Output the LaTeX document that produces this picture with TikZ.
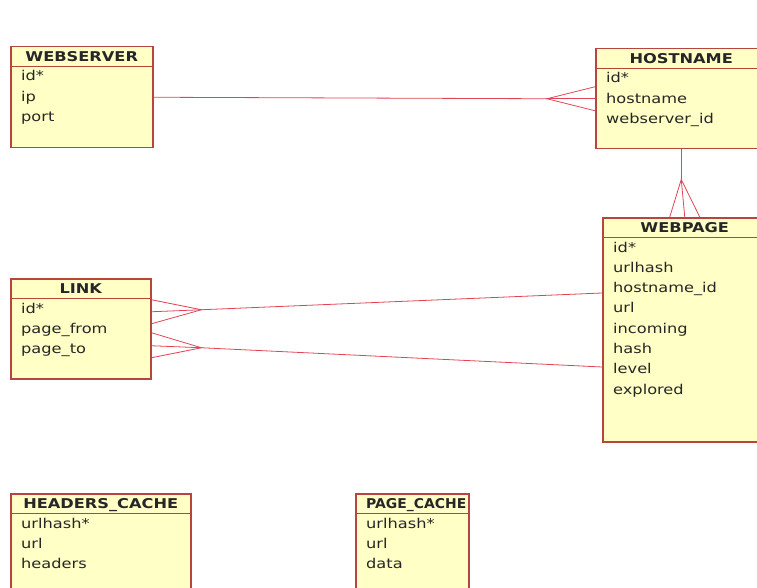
\documentclass[tikz,border=0pt]{standalone}
\usepackage{fontspec}
\usepackage{graphicx}
\setmainfont[FakeStretch=1.2]{DejaVu Sans}
\usetikzlibrary{calc}
\definecolor{tfill}{HTML}{FFFFC6}
\definecolor{tborder}{HTML}{B8443E}
\definecolor{relc}{HTML}{E04456}
\definecolor{ink}{HTML}{262626}
\tikzset{
  tbl/.style={draw=tborder, fill=tfill, line width=1.5pt, anchor=north west, inner sep=0pt},
  hline/.style={draw=tborder, line width=1.3pt},
  hdr/.style={font=\fontsize{13.5}{15}\selectfont\bfseries, text=ink, anchor=base, inner sep=0pt},
  fld/.style={font=\fontsize{13.5}{15}\selectfont, text=ink, anchor=base west, inner sep=0pt},
  relline/.style={draw=relc, line width=0.8pt},
}
\begin{document}
\begin{tikzpicture}[x=1pt,y=-1pt]
\useasboundingbox (0,0) rectangle (757,588);
\clip (0,0) rectangle (757,588);

% WEBSERVER
\node[tbl, minimum width=142pt, minimum height=101pt] (webserver) at (10,46) {};
\draw[hline] ($(webserver.north west)+(0,20.5)$) -- ($(webserver.north east)+(0,20.5)$);
\node[hdr] (webserver-h) at ($(webserver.north)+(0,15.4)$) {WEBSERVER};
\foreach \t [count=\i from 0] in {id*, ip, port}
  \node[fld] (webserver-f\i) at ($(webserver.north west)+(11,35+20.3*\i)$) {\t};

% HOSTNAME
\node[tbl, minimum width=171pt, minimum height=100pt] (hostname) at (595,48) {};
\draw[hline] ($(hostname.north west)+(0,20.5)$) -- ($(hostname.north east)+(0,20.5)$);
\node[hdr] (hostname-h) at ($(hostname.north)+(0,15.4)$) {HOSTNAME};
\foreach \t [count=\i from 0] in {id*, hostname, webserver\_id}
  \node[fld] (hostname-f\i) at ($(hostname.north west)+(11,35+20.3*\i)$) {\t};

% WEBPAGE
\node[tbl, minimum width=164pt, minimum height=224pt] (webpage) at (602,217) {};
\draw[hline] ($(webpage.north west)+(0,20.5)$) -- ($(webpage.north east)+(0,20.5)$);
\node[hdr] (webpage-h) at ($(webpage.north)+(0,15.4)$) {WEBPAGE};
\foreach \t [count=\i from 0] in {id*, urlhash, hostname\_id, url, incoming, hash, level, explored}
  \node[fld] (webpage-f\i) at ($(webpage.north west)+(11,35+20.3*\i)$) {\t};

% LINK
\node[tbl, minimum width=140pt, minimum height=100pt] (link) at (10,278) {};
\draw[hline] ($(link.north west)+(0,20.5)$) -- ($(link.north east)+(0,20.5)$);
\node[hdr] (link-h) at ($(link.north)+(0,15.4)$) {LINK};
\foreach \t [count=\i from 0] in {id*, page\_from, page\_to}
  \node[fld] (link-f\i) at ($(link.north west)+(11,35+20.3*\i)$) {\t};

% HEADERS_CACHE
\node[tbl, minimum width=180pt, minimum height=110pt] (hcache) at (10,493) {};
\draw[hline] ($(hcache.north west)+(0,20.5)$) -- ($(hcache.north east)+(0,20.5)$);
\node[hdr] (hcache-h) at ($(hcache.north)+(0,15.4)$) {HEADERS\_CACHE};
\foreach \t [count=\i from 0] in {urlhash*, url, headers}
  \node[fld] (hcache-f\i) at ($(hcache.north west)+(11,35+20.3*\i)$) {\t};

% PAGE_CACHE
\node[tbl, minimum width=113pt, minimum height=110pt] (pcache) at (355,493) {};
\draw[hline] ($(pcache.north west)+(0,20.5)$) -- ($(pcache.north east)+(0,20.5)$);
\node[hdr, anchor=base west] (pcache-h) at ($(pcache.north west)+(11,15.4)$) {\scalebox{0.86}[1]{PAGE\_CACHE}};
\foreach \t [count=\i from 0] in {urlhash*, url, data}
  \node[fld] (pcache-f\i) at ($(pcache.north west)+(11,35+20.3*\i)$) {\t};

% WEBSERVER -- HOSTNAME (many at HOSTNAME)
\coordinate (fk1) at ($(hostname.west)+(-48,0)$);
\draw[relline] (webserver.east) -- (fk1);
\draw[relline] ($(hostname.west)+(0,-12)$) -- (fk1) -- ($(hostname.west)+(0,12)$);
\draw[relline] (fk1) -- (hostname.west);

% HOSTNAME -- WEBPAGE (many at WEBPAGE)
\coordinate (fk2) at ($(hostname.south)+(0,30)$);
\draw[relline] (hostname.south) -- (fk2);
\draw[relline] ($(webpage.north)+(-15,0)$) -- (fk2) -- ($(webpage.north)+(15,0)$);
\draw[relline] (fk2) -- (webpage.north);

% WEBPAGE -- LINK page_from
\coordinate (fk3) at ($(link.east)+(50,-19)$);
\coordinate (wp3) at ($(webpage.north west)+(0,76)$);
\draw[relline] (wp3) -- (fk3);
\draw[relline] ($(link.east)+(0,-29)$) -- (fk3) -- ($(link.east)+(0,-5)$);
\draw[relline] (fk3) -- ($(link.east)+(0,-17)$);

% WEBPAGE -- LINK page_to
\coordinate (fk4) at ($(link.east)+(50,19)$);
\coordinate (wp4) at ($(webpage.north west)+(0,150)$);
\draw[relline] (wp4) -- (fk4);
\draw[relline] ($(link.east)+(0,4)$) -- (fk4) -- ($(link.east)+(0,29)$);
\draw[relline] (fk4) -- ($(link.east)+(0,17)$);
\end{tikzpicture}
\end{document}
